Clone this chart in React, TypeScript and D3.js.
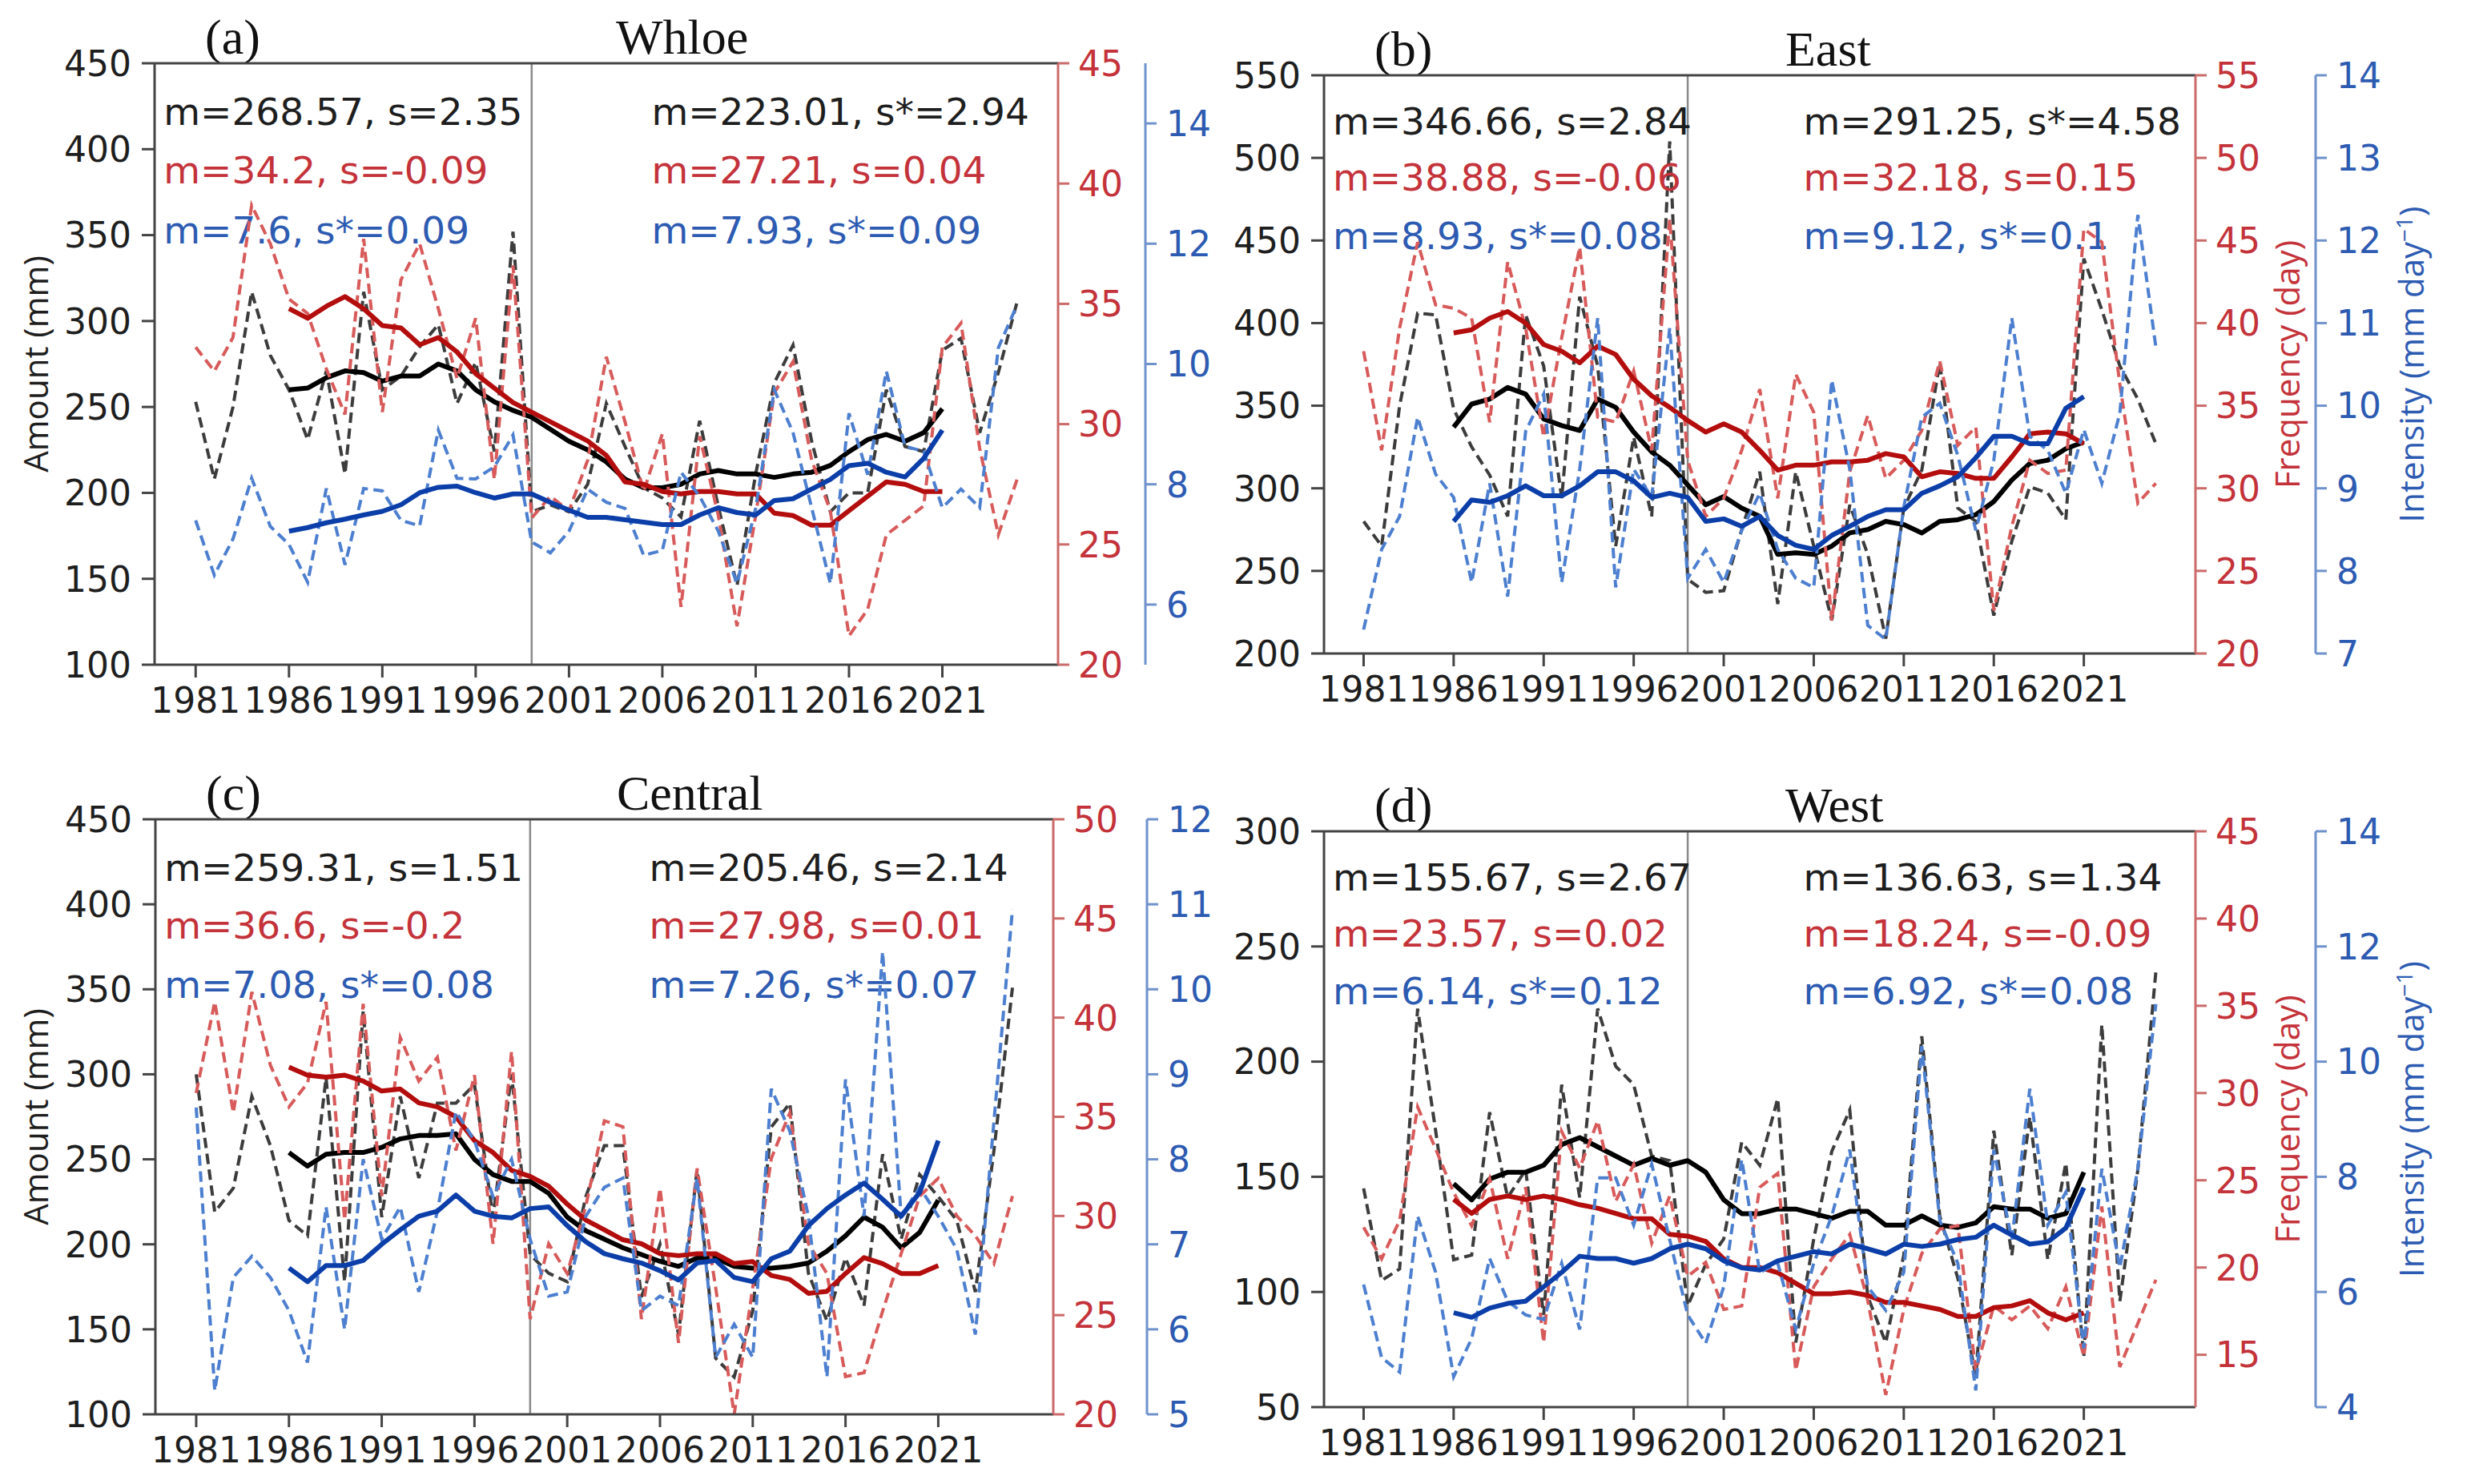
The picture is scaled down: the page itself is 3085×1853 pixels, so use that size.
import React from "react";
import * as d3 from "d3";

const years = d3.range(1981, 2026);
const maYears = d3.range(1986, 2022);
const xTicks = [1981, 1986, 1991, 1996, 2001, 2006, 2011, 2016, 2021];
const splitYear = 1999;

// (a) Whloe
const wholeAmount = [253, 208, 250, 317, 280, 260, 231, 271, 211, 317, 260, 268, 285, 298, 252, 276, 224, 352, 189, 193, 189, 205, 252, 227, 203, 197, 186, 242, 192, 146, 211, 264, 286, 230, 189, 200, 200, 260, 227, 224, 283, 290, 235, 270, 311];
const wholeFreq = [33.2, 32.2, 33.6, 39.1, 37.5, 35.2, 34.6, 32.3, 30.4, 37.7, 30.5, 36.0, 37.5, 34.8, 31.9, 34.4, 27.7, 36.6, 26.1, 27.0, 26.4, 28.5, 32.8, 30.1, 27.2, 29.6, 22.4, 29.5, 26.2, 21.6, 26.2, 31.3, 32.6, 28.5, 26.4, 21.2, 22.3, 25.4, 26.0, 26.6, 33.2, 34.2, 29.0, 25.4, 27.7];
const wholeInt = [7.4, 6.49, 7.09, 8.1, 7.3, 7.0, 6.37, 7.93, 6.66, 7.93, 7.89, 7.4, 7.31, 8.9, 8.1, 8.09, 8.29, 8.82, 7.04, 6.86, 7.22, 7.92, 7.7, 7.6, 6.82, 6.9, 8.2, 7.8, 7.22, 6.35, 7.6, 9.57, 8.86, 7.61, 6.35, 9.18, 8.16, 9.88, 8.63, 8.55, 7.61, 7.92, 7.61, 10.27, 10.98];
const wholeAmountMA = [260, 261, 267, 271, 270, 265, 268, 268, 275, 271, 260, 253, 248, 244, 237, 230, 225, 218, 208, 203, 203, 205, 211, 213, 211, 211, 209, 211, 212, 216, 224, 231, 234, 230, 235, 249];
const wholeFreqMA = [34.8, 34.4, 34.9, 35.3, 34.8, 34.1, 34.0, 33.3, 33.6, 33.0, 32.1, 31.5, 30.9, 30.5, 30.1, 29.7, 29.3, 28.7, 27.6, 27.5, 27.2, 27.1, 27.2, 27.2, 27.1, 27.1, 26.3, 26.2, 25.8, 25.8, 26.4, 27.0, 27.6, 27.5, 27.2, 27.2];
const wholeIntMA = [7.22, 7.28, 7.36, 7.42, 7.49, 7.55, 7.66, 7.86, 7.95, 7.97, 7.86, 7.77, 7.84, 7.84, 7.7, 7.57, 7.45, 7.45, 7.41, 7.37, 7.33, 7.33, 7.49, 7.61, 7.53, 7.49, 7.73, 7.76, 7.92, 8.08, 8.31, 8.35, 8.2, 8.12, 8.43, 8.9];

// (b) East
const eastAmount = [280, 265, 350, 406, 405, 348, 325, 308, 283, 405, 374, 294, 416, 374, 265, 331, 283, 510, 245, 237, 238, 275, 310, 230, 310, 265, 220, 290, 260, 209, 288, 311, 376, 288, 280, 223, 268, 301, 297, 281, 439, 408, 374, 354, 327];
const eastFreq = [38.3, 32.3, 39.7, 44.9, 41.1, 40.9, 40.3, 34.0, 43.7, 39.7, 33.1, 39.1, 44.6, 34.3, 34.0, 37.1, 32.3, 46.3, 31.7, 28.3, 29.4, 32.3, 36.0, 29.4, 36.9, 34.6, 22.0, 31.0, 34.4, 30.6, 31.7, 33.5, 37.7, 32.6, 33.7, 22.6, 27.7, 31.7, 30.9, 31.1, 45.7, 44.9, 36.3, 29.1, 30.3];
const eastInt = [7.29, 8.26, 8.66, 9.86, 9.17, 8.89, 7.86, 9.06, 7.69, 9.69, 10.14, 7.86, 9.23, 11.06, 7.8, 9.23, 8.89, 10.94, 7.91, 8.26, 7.86, 8.49, 8.94, 8.26, 7.91, 7.8, 10.31, 9.23, 7.34, 7.17, 8.77, 9.86, 10.03, 9.4, 8.49, 9.34, 11.06, 9.63, 9.46, 8.94, 9.71, 9.06, 9.91, 12.31, 10.71];
const eastAmountMA = [337, 351, 354, 361, 357, 342, 338, 335, 354, 349, 334, 322, 314, 302, 290, 295, 288, 283, 260, 261, 260, 265, 273, 275, 280, 278, 273, 280, 281, 284, 292, 305, 315, 317, 324, 328];
const eastFreqMA = [39.4, 39.6, 40.3, 40.7, 40.0, 38.7, 38.3, 37.6, 38.6, 38.1, 36.6, 35.6, 34.9, 34.1, 33.4, 33.9, 33.4, 32.3, 31.1, 31.4, 31.4, 31.6, 31.6, 31.7, 32.1, 31.9, 30.7, 31.0, 30.9, 30.6, 30.6, 31.9, 33.3, 33.4, 33.3, 32.7];
const eastIntMA = [8.6, 8.86, 8.83, 8.91, 9.03, 8.91, 8.91, 9.03, 9.2, 9.2, 9.09, 8.89, 8.94, 8.89, 8.6, 8.63, 8.54, 8.66, 8.43, 8.31, 8.26, 8.43, 8.54, 8.66, 8.74, 8.74, 8.94, 9.03, 9.14, 9.37, 9.63, 9.63, 9.54, 9.54, 9.97, 10.11];

// (c) Central
const centralAmount = [300, 219, 233, 287, 258, 214, 205, 298, 178, 337, 216, 287, 239, 283, 283, 294, 216, 300, 194, 183, 178, 228, 258, 258, 169, 200, 147, 244, 133, 122, 161, 269, 283, 183, 155, 192, 164, 253, 203, 241, 228, 214, 172, 255, 351];
const centralFreq = [36.2, 40.8, 35.2, 41.3, 37.6, 35.5, 36.7, 40.8, 29.8, 40.7, 31.0, 39.0, 36.8, 38.0, 33.3, 37.1, 28.6, 38.3, 24.8, 28.6, 27.1, 30.5, 34.8, 34.5, 24.8, 31.4, 23.6, 32.4, 26.4, 20.0, 26.4, 32.9, 35.2, 28.6, 27.1, 21.9, 22.1, 25.2, 28.1, 31.0, 31.9, 30.0, 29.0, 27.6, 31.0];
const centralInt = [8.61, 5.28, 6.61, 6.86, 6.61, 6.22, 5.61, 7.44, 6.0, 8.0, 7.06, 7.44, 6.44, 7.39, 8.56, 8.22, 7.56, 8.0, 7.06, 6.39, 6.44, 7.33, 7.67, 7.78, 6.22, 6.39, 6.28, 7.78, 5.67, 6.06, 5.67, 8.83, 8.33, 7.33, 5.44, 8.94, 7.33, 10.44, 7.33, 7.67, 7.33, 6.94, 5.94, 8.44, 10.94];
const centralAmountMA = [254, 246, 253, 254, 254, 257, 262, 264, 264, 265, 250, 241, 237, 237, 230, 216, 208, 203, 198, 194, 190, 187, 192, 192, 187, 186, 186, 187, 189, 196, 205, 216, 210, 198, 207, 226];
const centralFreqMA = [37.5, 37.1, 37.0, 37.1, 36.8, 36.3, 36.4, 35.7, 35.5, 35.0, 33.8, 33.2, 32.3, 32.0, 31.5, 30.6, 29.8, 29.3, 28.8, 28.6, 28.1, 28.0, 28.1, 28.1, 27.6, 27.7, 27.0, 26.8, 26.1, 26.2, 27.1, 27.9, 27.6, 27.1, 27.1, 27.5];
const centralIntMA = [6.72, 6.56, 6.75, 6.75, 6.81, 7.0, 7.17, 7.33, 7.39, 7.58, 7.39, 7.33, 7.31, 7.42, 7.44, 7.22, 7.03, 6.89, 6.83, 6.78, 6.69, 6.58, 6.78, 6.81, 6.61, 6.56, 6.83, 6.92, 7.22, 7.42, 7.58, 7.72, 7.53, 7.33, 7.61, 8.22];

// (d) West
const westAmount = [145, 105, 110, 223, 170, 114, 116, 178, 141, 153, 90, 190, 141, 223, 198, 190, 159, 157, 94, 112, 123, 165, 155, 184, 78, 123, 161, 179, 98, 78, 116, 211, 133, 106, 63, 170, 116, 176, 114, 156, 72, 216, 96, 153, 239];
const westFreq = [22.3, 20.5, 22.7, 29.2, 26.8, 24.3, 22.4, 25.1, 20.5, 24.6, 15.7, 27.8, 25.7, 28.4, 23.8, 25.9, 21.4, 24.1, 19.5, 20.3, 17.6, 17.8, 24.6, 25.4, 14.1, 18.9, 20.5, 21.9, 18.1, 12.7, 17.6, 20.8, 22.2, 22.4, 14.1, 17.8, 17.0, 17.8, 16.5, 18.9, 14.9, 23.5, 14.3, 16.8, 19.3];
const westInt = [6.13, 4.86, 4.61, 7.32, 6.34, 4.53, 5.19, 6.58, 5.84, 5.6, 5.52, 6.5, 5.35, 7.98, 7.98, 7.16, 8.22, 6.91, 5.6, 5.11, 6.09, 8.3, 6.34, 6.5, 5.35, 6.5, 7.32, 8.47, 6.09, 5.68, 6.34, 10.27, 7.24, 6.5, 4.29, 8.47, 6.91, 9.53, 7.16, 7.73, 5.02, 8.14, 6.42, 8.14, 11.0];
const westAmountMA = [147, 140, 149, 152, 152, 155, 164, 167, 163, 159, 155, 158, 155, 157, 152, 140, 134, 134, 136, 136, 134, 132, 135, 135, 129, 129, 133, 129, 128, 130, 137, 136, 136, 132, 134, 152];
const westFreqMA = [23.9, 23.1, 23.9, 24.1, 23.9, 24.1, 23.9, 23.6, 23.4, 23.1, 22.8, 22.8, 21.9, 21.8, 21.5, 20.5, 20.0, 20.0, 19.7, 19.1, 18.5, 18.5, 18.6, 18.4, 18.0, 18.0, 17.8, 17.6, 17.2, 17.2, 17.7, 17.8, 18.1, 17.4, 17.0, 17.4];
const westIntMA = [5.64, 5.56, 5.72, 5.8, 5.84, 6.09, 6.34, 6.62, 6.58, 6.58, 6.5, 6.58, 6.75, 6.83, 6.75, 6.54, 6.42, 6.38, 6.54, 6.62, 6.7, 6.66, 6.83, 6.75, 6.66, 6.83, 6.79, 6.83, 6.91, 6.95, 7.16, 6.99, 6.83, 6.87, 7.11, 7.81];

const panels = [
  {
    tag: "(a)", title: "Whloe",
    box: { left: 193, right: 1321, top: 79, bottom: 830 }, blueX: 1430,
    amountDomain: [100, 450], freqDomain: [20, 45], intDomain: [5, 15],
    freqTicks: [20, 25, 30, 35, 40, 45], intTicks: [6, 8, 10, 12, 14],
    leftLabel: true, rightLabels: false,
    amount: wholeAmount, freq: wholeFreq, int: wholeInt,
    amountMA: wholeAmountMA, freqMA: wholeFreqMA, intMA: wholeIntMA,
    notesLeft: ["m=268.57, s=2.35", "m=34.2, s=-0.09", "m=7.6, s*=0.09"],
    notesRight: ["m=223.01, s*=2.94", "m=27.21, s=0.04", "m=7.93, s*=0.09"],
  },
  {
    tag: "(b)", title: "East",
    box: { left: 1653, right: 2741, top: 94, bottom: 816 }, blueX: 2891,
    amountDomain: [200, 550], freqDomain: [20, 55], intDomain: [7, 14],
    freqTicks: [20, 25, 30, 35, 40, 45, 50, 55], intTicks: [7, 8, 9, 10, 11, 12, 13, 14],
    leftLabel: false, rightLabels: true,
    amount: eastAmount, freq: eastFreq, int: eastInt,
    amountMA: eastAmountMA, freqMA: eastFreqMA, intMA: eastIntMA,
    notesLeft: ["m=346.66, s=2.84", "m=38.88, s=-0.06", "m=8.93, s*=0.08"],
    notesRight: ["m=291.25, s*=4.58", "m=32.18, s=0.15", "m=9.12, s*=0.1"],
  },
  {
    tag: "(c)", title: "Central",
    box: { left: 194, right: 1315, top: 1023, bottom: 1766 }, blueX: 1432,
    amountDomain: [100, 450], freqDomain: [20, 50], intDomain: [5, 12],
    freqTicks: [20, 25, 30, 35, 40, 45, 50], intTicks: [5, 6, 7, 8, 9, 10, 11, 12],
    leftLabel: true, rightLabels: false,
    amount: centralAmount, freq: centralFreq, int: centralInt,
    amountMA: centralAmountMA, freqMA: centralFreqMA, intMA: centralIntMA,
    notesLeft: ["m=259.31, s=1.51", "m=36.6, s=-0.2", "m=7.08, s*=0.08"],
    notesRight: ["m=205.46, s=2.14", "m=27.98, s=0.01", "m=7.26, s*=0.07"],
  },
  {
    tag: "(d)", title: "West",
    box: { left: 1653, right: 2741, top: 1038, bottom: 1757 }, blueX: 2891,
    amountDomain: [50, 300], freqDomain: [12, 45], intDomain: [4, 14],
    freqTicks: [15, 20, 25, 30, 35, 40, 45], intTicks: [4, 6, 8, 10, 12, 14],
    leftLabel: false, rightLabels: true,
    amount: westAmount, freq: westFreq, int: westInt,
    amountMA: westAmountMA, freqMA: westFreqMA, intMA: westIntMA,
    notesLeft: ["m=155.67, s=2.67", "m=23.57, s=0.02", "m=6.14, s*=0.12"],
    notesRight: ["m=136.63, s=1.34", "m=18.24, s=-0.09", "m=6.92, s*=0.08"],
  },
];

const SANS = "'DejaVu Sans', sans-serif";
const LABEL = "'Open Sans', 'DejaVu Sans', sans-serif";
const SERIF = "'Liberation Serif', 'Times New Roman', serif";

const C = {
  spine: "#444",
  text: "#1e1e1e",
  redText: "#c4323a",
  blueText: "#2d5bb2",
  blackDash: "#3c3c3c",
  redDash: "#d85a5a",
  blueDash: "#4d7fd0",
  black: "#000000",
  red: "#b30d0d",
  blue: "#0b3ea8",
  redAxis: "#cc6a6a",
  blueAxis: "#6f92cc",
};

const Panel = ({ p }) => {
  const { left, right, top, bottom } = p.box;
  const h = bottom - top;
  const x = d3.scaleLinear().domain([1978.8, 2027.2]).range([left, right]);
  const yA = d3.scaleLinear().domain(p.amountDomain).range([bottom, top]);
  const yF = d3.scaleLinear().domain(p.freqDomain).range([bottom, top]);
  const yI = d3.scaleLinear().domain(p.intDomain).range([bottom, top]);
  const path = (scale, xs, vals) =>
    d3.line().x((_, i) => x(xs[i])).y((d) => scale(d))(vals);
  const amountTicks = d3.range(p.amountDomain[0], p.amountDomain[1] + 1, 50);
  const noteColors = [C.text, C.redText, C.blueText];
  const noteY = [0.103, 0.2, 0.3].map((f) => top + h * f);
  const dash = "13,7";
  const dw = 4;
  const sw = 6;

  return (
    <g>
      {/* titles */}
      <text x={left + 63} y={top - 12} fontFamily={SERIF} fontSize={62} fill="#111">{p.tag}</text>
      <text x={left + 576} y={top - 12} fontFamily={SERIF} fontSize={62} fill="#111">{p.title}</text>

      {/* split line */}
      <line x1={x(splitYear)} x2={x(splitYear)} y1={top} y2={bottom} stroke="#8a8a8a" strokeWidth={2.5} />

      {/* amount */}
      <path d={path(yA, years, p.amount)} fill="none" stroke={C.blackDash} strokeWidth={dw} strokeDasharray={dash} />
      <path d={path(yA, maYears, p.amountMA)} fill="none" stroke={C.black} strokeWidth={sw} strokeLinejoin="round" />

      {/* notes */}
      {p.notesLeft.map((t, i) => (
        <text key={"l" + i} x={left + (right - left) * 0.01} y={noteY[i]} fontFamily={SANS} fontSize={47} fill={noteColors[i]}>{t}</text>
      ))}
      {p.notesRight.map((t, i) => (
        <text key={"r" + i} x={left + (right - left) * 0.55} y={noteY[i]} fontFamily={SANS} fontSize={47} fill={noteColors[i]}>{t}</text>
      ))}

      {/* frequency */}
      <path d={path(yF, years, p.freq)} fill="none" stroke={C.redDash} strokeWidth={dw} strokeDasharray={dash} />
      <path d={path(yF, maYears, p.freqMA)} fill="none" stroke={C.red} strokeWidth={sw} strokeLinejoin="round" />

      {/* intensity */}
      <path d={path(yI, years, p.int)} fill="none" stroke={C.blueDash} strokeWidth={dw} strokeDasharray={dash} />
      <path d={path(yI, maYears, p.intMA)} fill="none" stroke={C.blue} strokeWidth={sw} strokeLinejoin="round" />

      {/* frame */}
      <line x1={left} x2={right} y1={top} y2={top} stroke={C.spine} strokeWidth={3} />
      <line x1={left} x2={right} y1={bottom} y2={bottom} stroke={C.spine} strokeWidth={3} />
      <line x1={left} x2={left} y1={top} y2={bottom} stroke={C.spine} strokeWidth={3} />
      <line x1={right} x2={right} y1={top} y2={bottom} stroke={C.redAxis} strokeWidth={3} />

      {/* x axis */}
      {xTicks.map((t) => (
        <g key={"x" + t}>
          <line x1={x(t)} x2={x(t)} y1={bottom} y2={bottom + 16} stroke={C.spine} strokeWidth={3} />
          <text x={x(t)} y={bottom + 60} textAnchor="middle" fontFamily={SANS} fontSize={44} fill={C.text}>{t}</text>
        </g>
      ))}

      {/* amount axis */}
      {amountTicks.map((t) => (
        <g key={"a" + t}>
          <line x1={left - 16} x2={left} y1={yA(t)} y2={yA(t)} stroke={C.spine} strokeWidth={3} />
          <text x={left - 29} y={yA(t)} dy="0.36em" textAnchor="end" fontFamily={SANS} fontSize={44} fill={C.text}>{t}</text>
        </g>
      ))}

      {/* frequency axis */}
      {p.freqTicks.map((t) => (
        <g key={"f" + t}>
          <line x1={right} x2={right + 14} y1={yF(t)} y2={yF(t)} stroke={C.redAxis} strokeWidth={3} />
          <text x={right + 25} y={yF(t)} dy="0.36em" fontFamily={SANS} fontSize={44} fill={C.redText}>{t}</text>
        </g>
      ))}

      {/* intensity axis */}
      <line x1={p.blueX} x2={p.blueX} y1={top} y2={bottom} stroke={C.blueAxis} strokeWidth={3} />
      {p.intTicks.map((t) => (
        <g key={"i" + t}>
          <line x1={p.blueX} x2={p.blueX + 14} y1={yI(t)} y2={yI(t)} stroke={C.blueAxis} strokeWidth={3} />
          <text x={p.blueX + 26} y={yI(t)} dy="0.36em" fontFamily={SANS} fontSize={44} fill={C.blueText}>{t}</text>
        </g>
      ))}

      {p.leftLabel && (
        <text transform={`translate(45,${(top + bottom) / 2}) rotate(-90)`} textAnchor="middle" dy="0.35em" fontFamily={LABEL} fontSize={42} fill={C.text}>
          Amount (mm)
        </text>
      )}
      {p.rightLabels && (
        <g>
          <text transform={`translate(2856,${(top + bottom) / 2}) rotate(-90)`} textAnchor="middle" dy="0.35em" fontFamily={LABEL} fontSize={42} fill={C.redText}>
            Frequency (day)
          </text>
          <text transform={`translate(3011,${(top + bottom) / 2}) rotate(-90)`} textAnchor="middle" dy="0.35em" fontFamily={LABEL} fontSize={42} fill={C.blueText}>
            Intensity (mm day<tspan dy={-14} fontSize={28}>−1</tspan><tspan dy={14}>)</tspan>
          </text>
        </g>
      )}
    </g>
  );
};

export default function App() {
  return (
    <div>
      <style>{"body{margin:0;background:#fff}"}</style>
      <svg width={3085} height={1853} style={{ display: "block", background: "#fff" }}>
        {panels.map((p) => (
          <Panel key={p.tag} p={p} />
        ))}
      </svg>
    </div>
  );
}
